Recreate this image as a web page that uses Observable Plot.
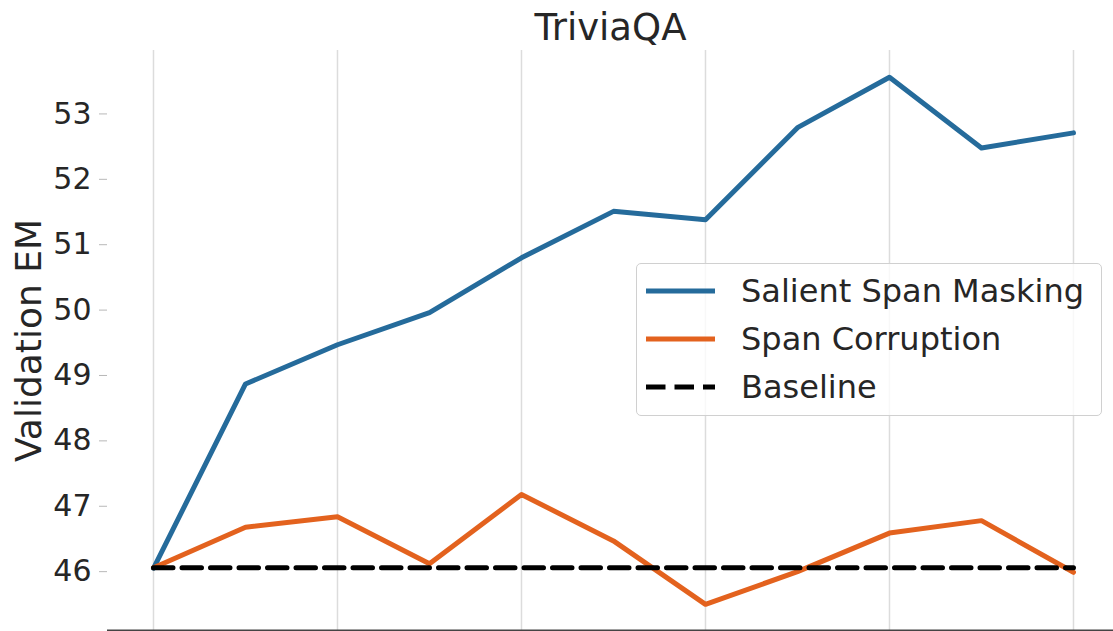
<!DOCTYPE html>
<html>
<head>
<meta charset="utf-8">
<script src="https://cdn.jsdelivr.net/npm/d3@7"></script>
<script src="https://cdn.jsdelivr.net/npm/@observablehq/plot@0.6"></script>
<style>
  html, body { margin: 0; padding: 0; background: #fff; }
  body { width: 1113px; height: 631px; overflow: hidden; position: relative; font-family: "DejaVu Sans", sans-serif; }
  #legend { position: absolute; left: 636px; top: 263px; width: 466px; height: 153px;
    background: rgba(255,255,255,0.8); border: 1.5px solid #d0d0d0; border-radius: 5px; box-sizing: border-box; }
  .item { position: absolute; left: 0; height: 40px; display: flex; align-items: center; }
  .item svg { margin-left: 9px; }
  .item span { margin-left: 26px; font-size: 32px; color: #262626; white-space: nowrap; }
</style>
</head>
<body>
<div id="chart"></div>
<div id="legend"></div>
<script>
const title = "TriviaQA";
const yLabel = "Validation EM";
const steps = [0, 1, 2, 3, 4, 5, 6, 7, 8, 9, 10];
const salientSpanMasking = [46.05, 48.87, 49.47, 49.96, 50.80, 51.51, 51.38, 52.79, 53.56, 52.48, 52.71];
const spanCorruption = [46.06, 46.68, 46.84, 46.12, 47.18, 46.47, 45.50, 46.00, 46.59, 46.78, 45.99];
const baselineValue = 46.06;
const yTicks = [46, 47, 48, 49, 50, 51, 52, 53];
const gridSteps = [0, 2, 4, 6, 8, 10];
const seriesNames = ["Salient Span Masking", "Span Corruption", "Baseline"];
const colors = {"Salient Span Masking": "#256b9b", "Span Corruption": "#e3621e", "Baseline": "#000000"};

const ssm = steps.map((s, i) => ({step: s, value: salientSpanMasking[i]}));
const sc = steps.map((s, i) => ({step: s, value: spanCorruption[i]}));
const base = [steps[0], steps[steps.length - 1]].map(s => ({step: s, value: baselineValue}));

const plot = Plot.plot({
  width: 1113,
  height: 631,
  marginLeft: 107,
  marginRight: 0,
  marginTop: 50,
  marginBottom: 1,
  style: {fontFamily: "DejaVu Sans, sans-serif", background: "transparent", overflow: "visible"},
  x: {domain: [-0.5, 10.435]},
  y: {domain: [45.1, 53.97]},
  marks: [
    Plot.gridX(gridSteps, {stroke: "#dcdcdc", strokeOpacity: 1, strokeWidth: 1.5}),
    Plot.axisY(yTicks, {tickSize: 8, tickPadding: 8, stroke: "#b8b8b8", fill: "#262626", fontSize: 30, label: null, tickFormat: d => String(d)}),
    Plot.axisX([], {label: null, tickSize: 0}),
    Plot.ruleY([45.1], {stroke: "#444", strokeWidth: 2}),
    Plot.line(ssm, {x: "step", y: "value", stroke: colors["Salient Span Masking"], strokeWidth: 5, strokeLinejoin: "round", strokeLinecap: "round"}),
    Plot.line(sc, {x: "step", y: "value", stroke: colors["Span Corruption"], strokeWidth: 5, strokeLinejoin: "round", strokeLinecap: "round"}),
    Plot.line(base, {x: "step", y: "value", stroke: colors["Baseline"], strokeWidth: 5, strokeDasharray: "19.5,9"}),
    Plot.text([title], {frameAnchor: "top", dy: -37, fontSize: 37, fill: "#262626"}),
    Plot.text([yLabel], {frameAnchor: "left", dx: -78, rotate: -90, textAnchor: "middle", fontSize: 36, fill: "#262626"})
  ]
});
document.getElementById("chart").appendChild(plot);

const legend = document.getElementById("legend");
seriesNames.forEach((name, i) => {
  const item = document.createElement("div");
  item.className = "item";
  item.style.top = (7 + i * 48) + "px";
  const dash = name === "Baseline" ? ' stroke-dasharray="19.5,9"' : '';
  item.innerHTML = `<svg width="69" height="10"><line x1="0" y1="5" x2="69" y2="5" stroke="${colors[name]}" stroke-width="5"${dash} stroke-linecap="${name === 'Baseline' ? 'butt' : 'round'}"/></svg><span>${name}</span>`;
  legend.appendChild(item);
});
</script>
</body>
</html>
